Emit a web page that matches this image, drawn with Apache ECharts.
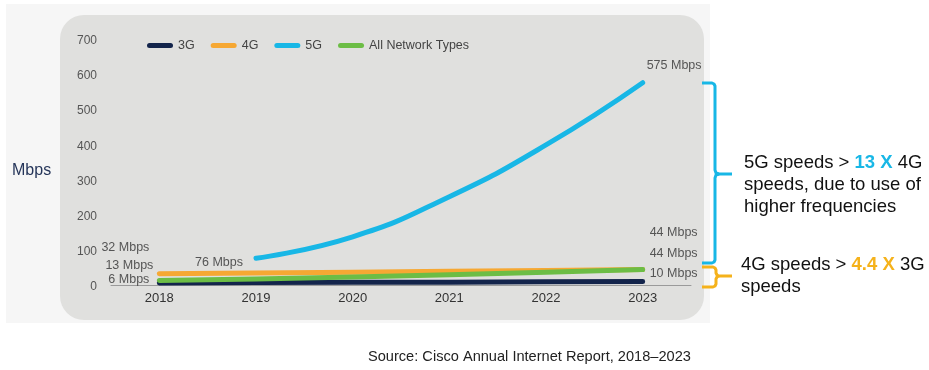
<!DOCTYPE html>
<html>
<head>
<meta charset="utf-8">
<script src="https://cdn.jsdelivr.net/npm/echarts@6/dist/echarts.min.js"></script>
<style>
  html, body { margin: 0; padding: 0; background: #ffffff; }
  #chart { width: 929px; height: 370px; }
</style>
</head>
<body>
<div id="chart"></div>
<script>
// Mobile network speeds by year (Mbps)
const years = ['2018', '2019', '2020', '2021', '2022', '2023'];
const speed3G = [6, 7, 8, 8, 9, 10];
const speed4G = [32, 34, 36, 39, 41, 44];
const speed5G = ['-', 76, 137, 251, 398, 575];
const speedAll = [13, 17, 23, 29, 36, 44];
const yTicks = [0, 100, 200, 300, 400, 500, 600, 700];

const FONT = '"Liberation Sans", Arial, Helvetica, sans-serif';
const C3G = '#13244b';
const C4G = '#f6a833';
const C5G = '#18b7e6';
const CALL = '#6cbd45';
const CGOLD = '#f5b21b';

const labelBase = {
  show: true,
  formatter: '{c} Mbps',
  color: '#555555',
  fontSize: 12.5,
  fontFamily: FONT
};

// attach value labels to the first / last point of a series
function withLabels(values, labels) {
  return values.map((v, i) => {
    if (labels[i]) {
      return { value: v, label: Object.assign({}, labelBase, labels[i]) };
    }
    return v;
  });
}

function lineSeries(name, color, data, smooth) {
  return {
    name: name,
    type: 'line',
    data: data,
    smooth: smooth,
    symbol: 'circle',
    symbolSize: 0,
    showSymbol: true,
    connectNulls: false,
    lineStyle: { width: 5, color: color, cap: 'round', join: 'round' },
    itemStyle: { color: color },
    label: { show: false },
    emphasis: { disabled: true },
    animation: false
  };
}

// one half of a curly brace drawn as a polyline
function braceLine(points, color) {
  return {
    type: 'polyline', silent: true,
    shape: { points: points },
    style: { stroke: color, lineWidth: 3, fill: null, lineJoin: 'round' }
  };
}

const chart = echarts.init(document.getElementById('chart'));

chart.setOption({
  backgroundColor: '#ffffff',
  animation: false,
  grid: { left: 111, right: 238, top: 38.7, bottom: 85 },
  legend: {
    left: 142,
    top: 34,
    itemWidth: 26,
    itemHeight: 5,
    itemGap: 16,
    icon: 'path://M2.5,0 H23.5 A2.5,2.5 0 0 1 23.5,5 H2.5 A2.5,2.5 0 0 1 2.5,0 Z',
    textStyle: { color: '#444444', fontSize: 12.5, fontFamily: FONT },
    data: ['3G', '4G', '5G', 'All Network Types']
  },
  xAxis: {
    type: 'category',
    data: years,
    boundaryGap: true,
    axisLine: { show: true, lineStyle: { color: '#9a9a9a', width: 1 } },
    axisTick: { show: false },
    axisLabel: { color: '#333333', fontSize: 13, fontFamily: FONT, margin: 7 },
    splitLine: { show: false }
  },
  yAxis: {
    type: 'value',
    min: yTicks[0],
    max: yTicks[yTicks.length - 1],
    interval: yTicks[1] - yTicks[0],
    axisLine: { show: false },
    axisTick: { show: false },
    splitLine: { show: false },
    axisLabel: {
      color: '#555555', fontSize: 12, fontFamily: FONT, margin: 14,
      formatter: (v) => '{v|' + v + '}',
      rich: { v: { color: '#555555', fontSize: 12, fontFamily: FONT, padding: [4, 0, 0, 0] } }
    }
  },
  series: [
    lineSeries('3G', C3G, withLabels(speed3G, {
      0: { position: 'left', distance: 10, offset: [0, -3] },
      5: { position: 'right', distance: 7, offset: [0, -7.5] }
    }), false),
    lineSeries('4G', C4G, withLabels(speed4G, {
      0: { position: 'left', distance: 10, offset: [0, -26] },
      5: { position: 'right', distance: 7, offset: [0, -36.5] }
    }), false),
    lineSeries('5G', C5G, withLabels(speed5G, {
      1: { position: 'left', distance: 13, offset: [0, 4] },
      5: { position: 'right', distance: 4, offset: [0, -17] }
    }), true),
    lineSeries('All Network Types', CALL, withLabels(speedAll, {
      0: { position: 'left', distance: 6, offset: [0, -14.5] },
      5: { position: 'right', distance: 7, offset: [0, -15.5] }
    }), false)
  ],
  graphic: [
    // panels behind the plot
    { type: 'rect', z: -20, silent: true,
      shape: { x: 6, y: 4, width: 704, height: 319 },
      style: { fill: '#f6f6f6' } },
    { type: 'rect', z: -19, silent: true,
      shape: { x: 60, y: 15, width: 644, height: 305, r: 24 },
      style: { fill: '#e0e0de' } },
    // axis title
    { type: 'text', x: 12, y: 163,
      style: { text: 'Mbps', fill: '#26365a', font: '16px ' + FONT } },
    // brace for the 5G vs 4G comparison
    braceLine([[702, 83], [712, 83], [714, 84], [715, 86], [715, 170], [716, 173], [719, 174], [732, 174]], C5G),
    braceLine([[719, 174], [716, 175], [715, 178], [715, 260], [714, 262], [712, 263], [702, 263]], C5G),
    // brace for the 4G vs 3G comparison
    braceLine([[702, 267], [713, 267], [715, 268], [716, 270], [716, 273], [717, 275], [719, 276], [732, 276]], CGOLD),
    braceLine([[719, 276], [717, 277], [716, 279], [716, 284], [715, 286], [713, 287], [702, 287]], CGOLD),
    { type: 'text', x: 744, y: 152,
      style: {
        text: '{a|5G speeds > }{b|13 X}{a| 4G}\n{a|speeds, due to use of}\n{a|higher frequencies}',
        verticalAlign: 'top',
        rich: {
          a: { fontSize: 18.5, fontFamily: FONT, fill: '#111111', lineHeight: 22 },
          b: { fontSize: 18.5, fontFamily: FONT, fill: C5G, fontWeight: 'bold', lineHeight: 22 }
        }
      } },
    { type: 'text', x: 741, y: 254,
      style: {
        text: '{a|4G speeds > }{b|4.4 X}{a| 3G}\n{a|speeds}',
        verticalAlign: 'top',
        rich: {
          a: { fontSize: 18.5, fontFamily: FONT, fill: '#111111', lineHeight: 22 },
          b: { fontSize: 18.5, fontFamily: FONT, fill: CGOLD, fontWeight: 'bold', lineHeight: 22 }
        }
      } },
    // source note
    { type: 'text', x: 368, y: 349,
      style: { text: 'Source: Cisco Annual Internet Report, 2018\u20132023', fill: '#222222', font: '14.6px ' + FONT } }
  ]
});
</script>
</body>
</html>
